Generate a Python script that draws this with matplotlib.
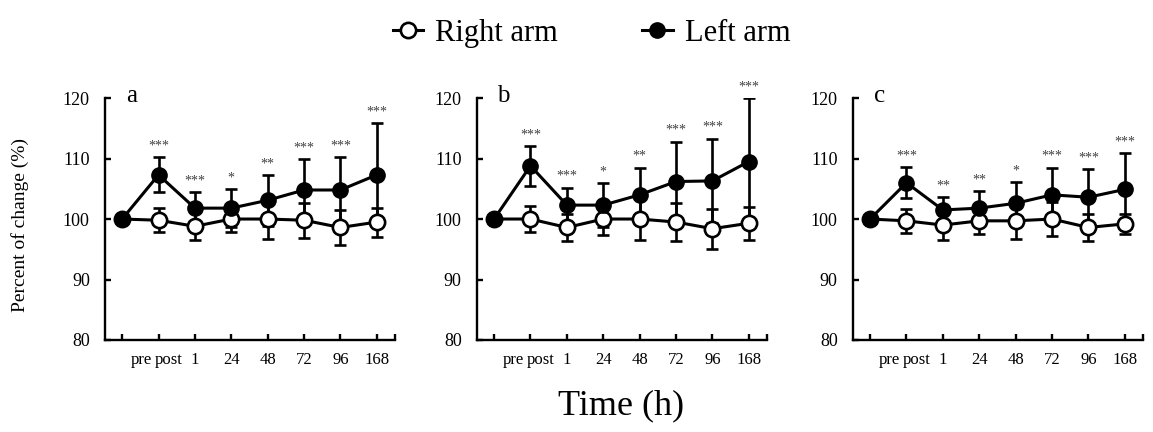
import numpy as np
import matplotlib
matplotlib.use('Agg')
import matplotlib.pyplot as plt
import matplotlib.transforms as mtransforms
from matplotlib.lines import Line2D

plt.rcParams['font.family'] = ['Liberation Serif', 'DejaVu Serif']

time_labels = ['pre', 'post', '1', '24', '48', '72', '96', '168']
panel_names = ['a', 'b', 'c']

right_a = [100, 99.8, 98.8, 100.0, 100.0, 99.8, 98.6, 99.5]
right_sd_a = [0, 2.0, 2.3, 2.2, 3.3, 2.9, 2.9, 2.4]
left_a = [100, 107.3, 101.8, 101.8, 103.1, 104.8, 104.8, 107.3]
left_sd_a = [0, 2.9, 2.6, 3.2, 4.2, 5.1, 5.4, 8.5]
stars_a = ['', '***', '***', '*', '**', '***', '***', '***']

right_b = [100, 100.0, 98.6, 100.0, 100.0, 99.5, 98.4, 99.3]
right_sd_b = [0, 2.1, 2.3, 2.6, 3.5, 3.2, 3.3, 2.7]
left_b = [100, 108.8, 102.3, 102.3, 104.0, 106.2, 106.3, 109.5]
left_sd_b = [0, 3.3, 2.9, 3.6, 4.5, 6.6, 7.0, 10.5]
stars_b = ['', '***', '***', '*', '**', '***', '***', '***']

right_c = [100, 99.7, 99.0, 99.7, 99.7, 100.0, 98.6, 99.2]
right_sd_c = [0, 2.0, 2.4, 2.2, 3.0, 2.8, 2.3, 1.6]
left_c = [100, 106.0, 101.5, 101.8, 102.6, 104.0, 103.6, 104.9]
left_sd_c = [0, 2.6, 2.1, 2.8, 3.5, 4.5, 4.6, 6.0]
stars_c = ['', '***', '**', '**', '*', '***', '***', '***']

panels = [
    (right_a, right_sd_a, left_a, left_sd_a, stars_a),
    (right_b, right_sd_b, left_b, left_sd_b, stars_b),
    (right_c, right_sd_c, left_c, left_sd_c, stars_c),
]

fig = plt.figure(figsize=(11.53, 4.32), dpi=100)
lefts = [0.0911, 0.4137, 0.7398]
x = np.arange(len(time_labels))

for k, (r, rsd, l, lsd, stars) in enumerate(panels):
    ax = fig.add_axes([lefts[k], 0.213, 0.2515, 0.560])
    ax.errorbar(x, r, yerr=rsd, fmt='none', ecolor='black', elinewidth=1.9,
                capsize=4.5, capthick=1.9, zorder=1)
    ax.errorbar(x, l, yerr=lsd, fmt='none', ecolor='black', elinewidth=1.9,
                capsize=4.5, capthick=1.9, zorder=1)
    ax.plot(x, r, '-o', color='black', lw=2.2, ms=11, mfc='white', mec='black',
            mew=1.9, zorder=3)
    ax.plot(x, l, '-o', color='black', lw=2.2, ms=11, mfc='black', mec='black',
            zorder=4)
    for xi, yi, sd, s in zip(x, l, lsd, stars):
        if s:
            ax.annotate(s, (xi, yi + sd), xytext=(0, 8), textcoords='offset points',
                        ha='center', va='center', fontsize=10, color='#404040')

    ax.set_xlim(-0.47, 7.5)
    ax.set_ylim(80, 120)
    ax.set_yticks([80, 90, 100, 110, 120])
    ax.set_xticks(x)
    ax.set_xticklabels(time_labels)
    ax.set_xticks([7.5], minor=True)
    for side in ['top', 'right']:
        ax.spines[side].set_visible(False)
    for side in ['left', 'bottom']:
        ax.spines[side].set_linewidth(1.7)
    ax.tick_params(axis='both', which='both', direction='in', length=4, width=1.7)
    ax.tick_params(axis='y', labelsize=13, pad=11)
    ax.tick_params(axis='x', labelsize=12, pad=9)
    # shift pre / post labels a bit to the right, as in the original
    for lab, dx in zip(ax.get_xticklabels()[:2], [19, 10]):
        lab.set_transform(lab.get_transform() +
                          mtransforms.ScaledTranslation(dx / 100, 0, fig.dpi_scale_trans))
    ax.text(0.09, 1.01, panel_names[k], transform=ax.transAxes, fontsize=18,
            ha='center', va='center')

fig.text(0.017, 0.479, 'Percent of change (%)', rotation=90, fontsize=14,
         ha='center', va='center')
fig.text(0.539, 0.06, 'Time (h)', fontsize=26, ha='center', va='center')

handles = [
    Line2D([], [], color='black', lw=2.2, marker='o', ms=11, mfc='white', mec='black', mew=1.9),
    Line2D([], [], color='black', lw=2.2, marker='o', ms=11, mfc='black', mec='black'),
]
fig.legend(handles, ['Right arm', 'Left arm'], loc='upper center',
           bbox_to_anchor=(0.513, 1.02), ncol=2, frameon=False, fontsize=22,
           handlelength=1.0, handletextpad=0.4, columnspacing=2.75)

fig.savefig('out.png', dpi=100)
